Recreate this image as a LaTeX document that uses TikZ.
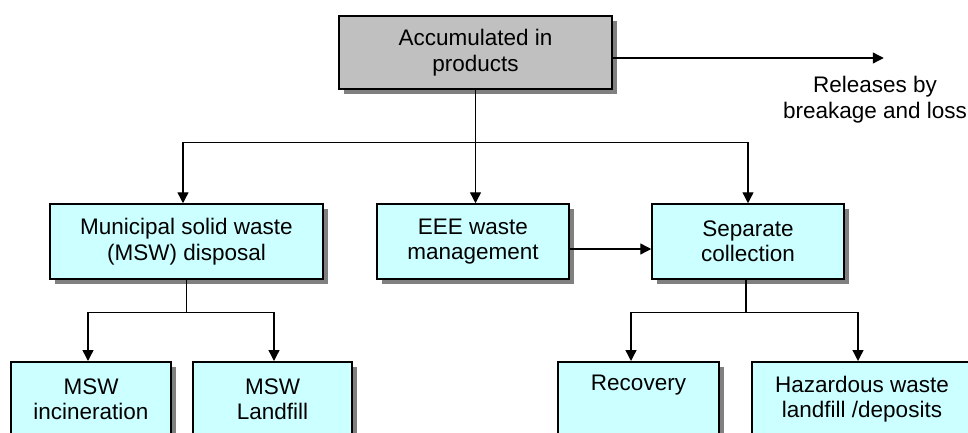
\documentclass[tikz,border=0pt]{standalone}
\usepackage{fontspec}
\setmainfont{Liberation Sans}
\usetikzlibrary{arrows.meta, shadows}
\definecolor{boxfill}{HTML}{CCFFFF}
\definecolor{topfill}{HTML}{C0C0C0}

\begin{document}
\begin{tikzpicture}[x=1pt, y=1pt, >={Triangle[length=11pt, width=11pt]},
        box/.style={draw, line width=1.5pt, fill=boxfill, align=center, inner sep=0pt,
            minimum height=75pt, font=\fontsize{22.5}{25.5}\selectfont,
            drop shadow={shadow xshift=5pt, shadow yshift=-5pt, fill=black!50, opacity=1}},
        lowbox/.style={box, anchor=north},
        link/.style={line width=1.4pt}]
    \clip (0,0) rectangle (968,432);

    % top box and release
    \node[box, fill=topfill, minimum width=273pt, minimum height=73pt] (acc) at (475.5,379.5) {Accumulated in\\products};
    \draw[link, ->] ([yshift=-5.5pt]acc.east) -- ++(271pt,0) coordinate (rel);
    \node[align=center, font=\fontsize{22.5}{25.5}\selectfont] (reltxt) at (875,332.5) {Releases by\\breakage and loss};

    % middle row
    \node[box, minimum width=273pt] (msw) at (186.5,190.5) {Municipal solid waste\\(MSW) disposal};
    \node[box, minimum width=192pt] (eee) at (473,190.5) {EEE waste\\management};
    \node[box, minimum width=192pt] (sep) at (748,190.5) {Separate\\collection};

    % bottom row
    \node[lowbox, minimum width=160pt] (inc) at (91,71) {MSW\\incineration};
    \node[lowbox, minimum width=159pt] (lf) at (272.5,71) {MSW\\Landfill};
    \node[lowbox, minimum width=161pt] (rec) at (638.5,71) {Recovery\\\strut};
    \node[lowbox, minimum width=220pt] (haz) at (862,71) {Hazardous waste\\landfill /deposits};

    % connectors
    \coordinate (fork) at ([yshift=-53pt]acc.south);
    \draw[link, ->] (acc.south) -- (acc.south |- eee.north);
    \draw[link, ->] (fork) -| ([xshift=-3.5pt]msw.north);
    \draw[link, ->] (fork) -| (sep.north);
    \draw[link, ->] ([yshift=-7.5pt]eee.east) -- ([yshift=-7.5pt]sep.west);

    \coordinate (mswfork) at ([yshift=-33pt]msw.south);
    \draw[link] (msw.south) -- (mswfork);
    \draw[link, ->] (mswfork) -| ([xshift=-3pt]inc.north);
    \draw[link, ->] (mswfork) -| ([xshift=1.5pt]lf.north);

    \coordinate (sepfork) at ([xshift=-2pt, yshift=-33pt]sep.south);
    \draw[link] ([xshift=-2pt]sep.south) -- (sepfork);
    \draw[link, ->] (sepfork) -| ([xshift=-7.5pt]rec.north);
    \draw[link, ->] (sepfork) -| ([xshift=-4pt]haz.north);
\end{tikzpicture}
\end{document}
